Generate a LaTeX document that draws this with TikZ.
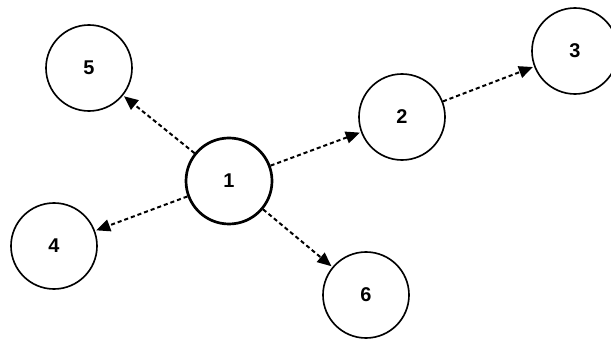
\documentclass[tikz,border=0pt]{standalone}
\usepackage{fontspec}
\setmainfont{Liberation Sans}
\usetikzlibrary{arrows.meta}

\begin{document}
\begin{tikzpicture}[x=0.03cm, y=-0.03cm,
		vnode/.style={draw, circle, line width=1.4pt, minimum size=2.58cm,
			inner sep=0pt, font=\fontsize{17}{19}\selectfont\bfseries},
		hub/.style={vnode, line width=2.3pt},
		arr/.style={-{Triangle[length=4.2mm, width=3.6mm]}, line width=1.7pt,
			dash pattern=on 3.5pt off 2.5pt, shorten >=1pt}
		]
		\useasboundingbox (0,0) rectangle (611,341);
		\node[hub] (n1) at (229,181) {1};
		\node[vnode] (n2) at (402,117) {2};
		\node[vnode] (n3) at (575,51) {3};
		\node[vnode] (n4) at (54,246) {4};
		\node[vnode] (n5) at (89,68) {5};
		\node[vnode] (n6) at (366,295) {6};
		
		\foreach \s/\t in {n1/n2, n2/n3, n1/n4, n1/n5, n1/n6}
		\draw[arr] (\s) -- (\t);
	\end{tikzpicture}
\end{document}
